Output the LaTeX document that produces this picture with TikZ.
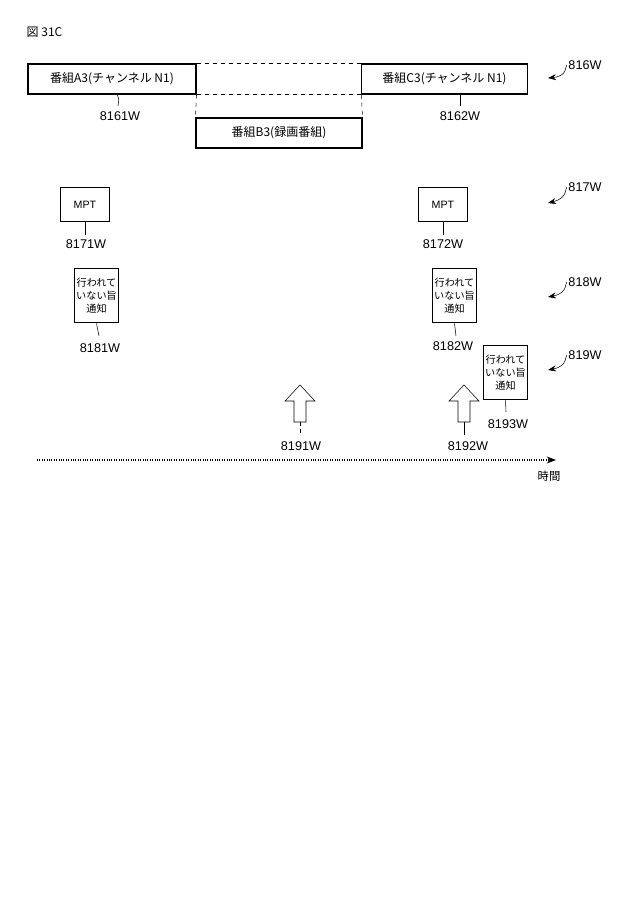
\documentclass[tikz,border=0pt]{standalone}
\usepackage{fontspec}
\setmainfont{Liberation Sans}
\newfontfamily\cjk{Noto Sans CJK JP}
\usetikzlibrary{arrows.meta,shapes.arrows}
\tikzset{
 box/.style={draw,thick,inner sep=0pt,font=\cjk\fontsize{9}{11}\selectfont},
 nbox/.style={draw,thick,minimum width=32pt,minimum height=41pt,inner sep=1pt,align=center,font=\cjk\fontsize{7.6}{9.5}\selectfont},
 lbl/.style={font=\fontsize{9.5}{11}\selectfont,inner sep=1pt},
 tick/.style={thin},
 refarr/.style={-{Stealth[length=6pt]},thin},
 hollow/.style={draw,thin,fill=white}
}
\begin{document}
\begin{tikzpicture}[x=0.75pt,y=-0.75pt]
\useasboundingbox (0,0) rectangle (622,921);
\node[anchor=west,font=\cjk\fontsize{9}{11}\selectfont] (title) at (22,32) {図 31C};
% programme row
\node[box,minimum width=126pt,minimum height=22.5pt] (a3) at (112,79) {番組A3(チャンネル N1)};
\node[box,minimum width=124pt,minimum height=22.5pt] (c3) at (444.5,79) {番組C3(チャンネル N1)};
\node[box,minimum width=124.5pt,minimum height=22.5pt] (b3) at (279,133) {番組B3(録画番組)};
\draw[dashed,thin] (a3.north east) -- (c3.north west);
\draw[dashed,thin] (a3.south east) -- (c3.south west);
\draw[dashed,thin] (a3.south east) -- (b3.north west);
\draw[dashed,thin] (c3.south west) -- (b3.north east);
\node[lbl] (l8161) at (120,116) {8161W};
\node[lbl] (l8162) at (460,116) {8162W};
\draw[tick] (117,94) .. controls (119,99) .. (118,106);
\draw[tick] (460,94) -- (460,106);
\node[lbl] (l816) at (585,65) {816W};
\draw[refarr] (l816.west) .. controls (565,66) and (568,76) .. (548,78);
% MPT row
\node[box,minimum width=37pt,minimum height=26pt,font=\fontsize{8}{10}\selectfont] (m1) at (85,204.5) {MPT};
\node[box,minimum width=37pt,minimum height=26pt,font=\fontsize{8}{10}\selectfont] (m2) at (443,204.5) {MPT};
\node[lbl] (l8171) at (86,244) {8171W};
\node[lbl] (l8172) at (443,244) {8172W};
\draw[tick] (m1.south) -- (85,235);
\draw[tick] (m2.south) -- (443,235);
\node[lbl] (l817) at (585,187) {817W};
\draw[refarr] (l817.west) .. controls (565,188) and (568,198) .. (548,203);
% notify row
\node[nbox] (n1) at (96.5,295.5) {行われて\\いない旨\\通知};
\node[nbox] (n2) at (454.5,295.5) {行われて\\いない旨\\通知};
\node[nbox] (n3) at (505.5,372.5) {行われて\\いない旨\\通知};
\node[lbl] (l8181) at (100,348) {8181W};
\node[lbl] (l8182) at (453,346) {8182W};
\node[lbl] (l8193) at (508,424) {8193W};
\draw[tick] (n1.south) -- (99,336);
\draw[tick] (n2.south) -- (456,336);
\draw[tick] (n3.south) -- (506,412);
\node[lbl] (l818) at (585,282) {818W};
\draw[refarr] (l818.west) .. controls (565,283) and (568,293) .. (548,297);
\node[lbl] (l819) at (585,355) {819W};
\draw[refarr] (l819.west) .. controls (565,356) and (568,366) .. (548,370);
% hollow arrows
\draw[hollow] (294,422) -- (294,401) -- (285,401) -- (300,385) -- (315,401) -- (306,401) -- (306,422) -- cycle;
\draw[hollow] (458,422) -- (458,401) -- (449,401) -- (464,385) -- (479,401) -- (470,401) -- (470,422) -- cycle;
\coordinate (h1) at (300,422);
\coordinate (h2) at (464,422);
\node[lbl] (l8191) at (301,446) {8191W};
\node[lbl] (l8192) at (468,446) {8192W};
\draw[tick,densely dashed] (h1) -- (300,435);
\draw[tick] (h2) -- (464,435);
% time axis
\coordinate (t0) at (37,460);
\coordinate (t1) at (556,460);
\draw[densely dotted,thick,-{Stealth[length=7pt]}] (t0) -- (t1);
\node[font=\cjk\fontsize{8.5}{10}\selectfont] (time) at (549,476) {時間};
\end{tikzpicture}
\end{document}
